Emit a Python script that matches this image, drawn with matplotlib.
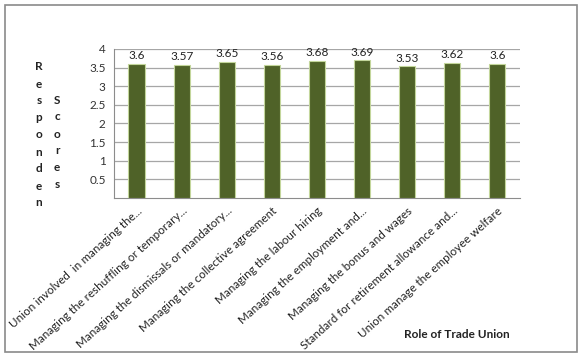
import matplotlib
matplotlib.use('agg')
import matplotlib.pyplot as plt
from matplotlib.patches import Rectangle

categories = [
    "Union involved  in managing the...",
    "Managing the reshuffling or temporary...",
    "Managing the dismissals or mandatory...",
    "Managing the collective agreement",
    "Managing the labour hiring",
    "Managing the employment and...",
    "Managing the bonus and wages",
    "Standard for retirement allowance and...",
    "Union manage the employee welfare",
]
scores = [3.6, 3.57, 3.65, 3.56, 3.68, 3.69, 3.53, 3.62, 3.6]
score_labels = ["3.6", "3.57", "3.65", "3.56", "3.68", "3.69", "3.53", "3.62", "3.6"]
yticks = [0.5, 1, 1.5, 2, 2.5, 3, 3.5, 4]

plt.rcParams['font.family'] = ['Lato', 'DejaVu Sans']

fig = plt.figure(figsize=(5.88, 3.62), dpi=100)
fig.patches.append(Rectangle((0.0085, 0.028), 0.973, 0.958, transform=fig.transFigure,
                             fill=False, edgecolor="#8a8a8a", linewidth=1.2))

ax = fig.add_axes([0.194, 0.453, 0.690, 0.412])
x = list(range(len(categories)))
ax.bar(x, scores, width=0.36, color="#4f6228", edgecolor="#c3d69b", linewidth=0.8, zorder=3)

for xi, s, lab in zip(x, scores, score_labels):
    ax.annotate(lab, (xi, s), xytext=(0, 2), textcoords="offset points",
                ha="center", va="bottom", fontsize=8.5, color="#222222", zorder=4)

ax.set_xlim(-0.5, len(categories) - 0.5)
ax.set_ylim(0, 4)
ax.set_yticks(yticks)
ax.set_yticklabels([f"{t:g}" for t in yticks], fontsize=8.5, color="#333333")
ax.yaxis.grid(True, color="#a6a6a6", linewidth=0.9, zorder=0)
ax.set_axisbelow(True)

ax.set_xticks(x)
ax.set_xticklabels(categories, rotation=42, ha="right", rotation_mode="anchor",
                   fontsize=8.4, color="#222222")
ax.tick_params(axis="x", length=0, pad=5)
ax.tick_params(axis="y", length=0, pad=6)

for side in ["top", "right"]:
    ax.spines[side].set_visible(False)
ax.spines["left"].set_color("#8c8c8c")
ax.spines["bottom"].set_color("#8c8c8c")

# stacked y-axis title letters
for i, ch in enumerate("Responden"):
    fig.text(39 / 588, 1 - (67 + i * 17) / 362, ch, ha="center", va="center",
             fontsize=8.5, fontweight="bold", color="#222222")
for i, ch in enumerate("Scores"):
    fig.text(57 / 588, 1 - (100 + i * 17) / 362, ch, ha="center", va="center",
             fontsize=8.5, fontweight="bold", color="#222222")

fig.text(457 / 588, 1 - 334 / 362, "Role of Trade Union", ha="center", va="center",
         fontsize=8.5, fontweight="bold", color="#222222")

plt.savefig("out.png", dpi=100)
plt.close()
